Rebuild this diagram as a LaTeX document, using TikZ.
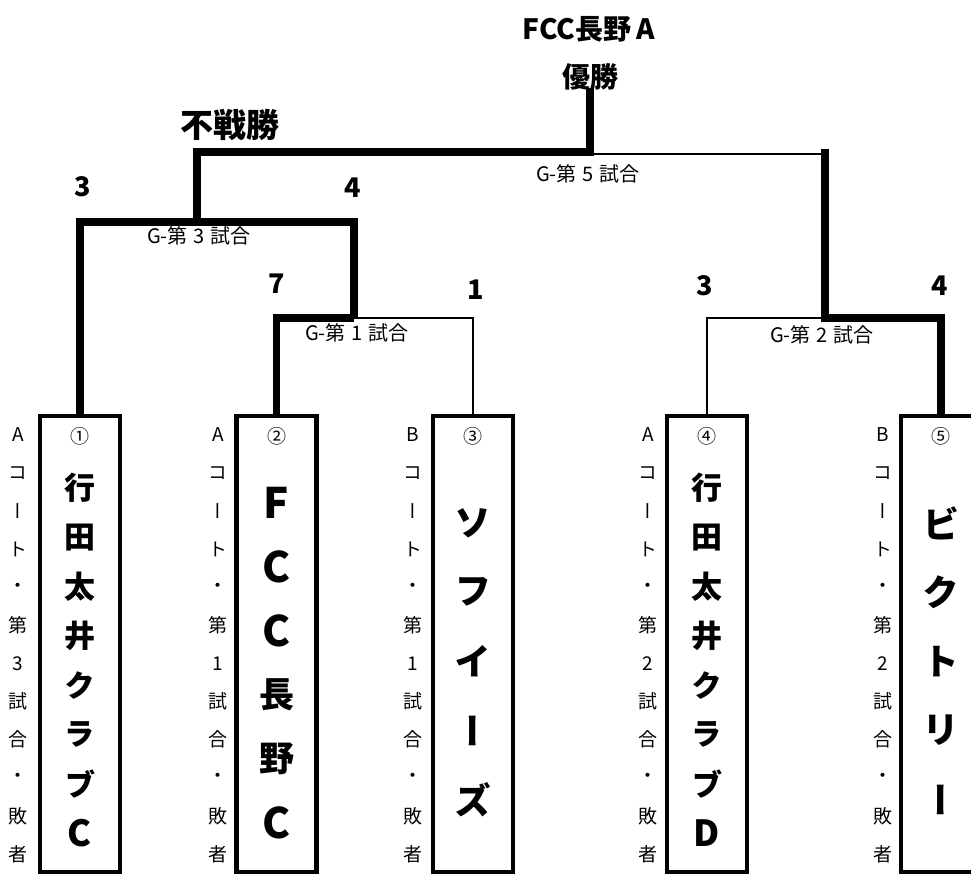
\documentclass[tikz,border=0pt]{standalone}
\usepackage{fontspec}
\newfontfamily\jp{Noto Sans CJK JP}
\newfontfamily\jpv[RawFeature=+vert]{Noto Sans CJK JP}
\newcommand\gap{\hspace{6pt}}
\begin{document}
\begin{tikzpicture}[x=1pt,y=-1pt,
  thk/.style={line width=7.5pt, line join=miter},
  thn/.style={line width=2.5pt},
  teambox/.style={draw, line width=4.5pt, minimum width=80pt, minimum height=456pt, inner sep=0pt},
  score/.style={font={\jp\bfseries\fontsize{27}{27}\selectfont}, inner sep=0pt},
  match/.style={font={\jp\fontsize{20}{20}\selectfont}, inner sep=0pt},
  title/.style={font={\jp\bfseries\fontsize{28}{28}\selectfont}, inner sep=0pt},
  side/.style={font={\jpv\fontsize{19}{19}\selectfont}, inner sep=0pt},
  circ/.style={font={\jp\fontsize{19}{19}\selectfont}, inner sep=0pt},
  tname/.style={font={\jpv\bfseries\fontsize{31}{31}\selectfont}, inner sep=0pt},
  tnamebig/.style={font={\jpv\bfseries\fontsize{35}{35}\selectfont}, inner sep=0pt}]
\useasboundingbox (0,0) rectangle (971,874);
\clip (0,0) rectangle (971,874);

% team boxes
\node[teambox] (b1) at (80,644) {};
\node[teambox] (b2) at (276.5,644) {};
\node[teambox] (b3) at (473,644) {};
\node[teambox] (b4) at (707,644) {};
\node[teambox] (b5) at (941,644) {};

% junctions
\coordinate (m1) at (354,318);
\coordinate (m3) at (197,222);
\coordinate (m5) at (590,152);
\coordinate (m5r) at (590,154);
\coordinate (m2) at (825,318);
\coordinate (m2top) at (825,149);
\coordinate (m2thin) at (825,154);
\coordinate (win) at (590,88);

% bracket lines
\draw[thk] (b1.north) |- (m3) -| (m1);
\draw[thk] (b2.north) |- (m1);
\draw[thn] (m1) -| (b3.north);
\draw[thk] (m3) |- (m5) -- (win);
\draw[thn] (m5r) -- (m2thin);
\draw[thn] (b4.north) |- (m2);
\draw[thk] (b5.north) |- (m2) -- (m2top);

% titles
\node[title] (champ) at (589,29) {FCC長野\hspace{5pt}A};
\node[title] (yusho) at (590,77) {優勝};
\node[title, font={\jp\bfseries\fontsize{33}{33}\selectfont}] (fusen) at (230,125) {不戦勝};

% match labels
\node[match] (lm5) at (588,174) {G-第\gap 5\gap 試合};
\node[match] (lm3) at (199,236) {G-第\gap 3\gap 試合};
\node[match] (lm1) at (357,333) {G-第\gap 1\gap 試合};
\node[match] (lm2) at (822,335) {G-第\gap 2\gap 試合};

% scores
\node[score] (s31) at (83,187) {3};
\node[score] (s32) at (353,188) {4};
\node[score] (s11) at (277,284) {7};
\node[score] (s12) at (476,290) {1};
\node[score] (s21) at (705,286) {3};
\node[score] (s22) at (940,286) {4};

% circled numbers
\node[circ] (n1) at (80,436) {①};
\node[circ] (n2) at (276.5,436) {②};
\node[circ] (n3) at (473,436) {③};
\node[circ] (n4) at (707,436) {④};
\node[circ] (n5) at (941,436) {⑤};

% side labels
\foreach \ch [count=\i from 0] in {A,コ,ー,ト,・,第,3,試,合,・,敗,者}
  \node[side] (sa\i) at (18,435+38.1*\i) {\ch};
\foreach \ch [count=\i from 0] in {A,コ,ー,ト,・,第,1,試,合,・,敗,者}
  \node[side] (sb\i) at (218,435+38.1*\i) {\ch};
\foreach \ch [count=\i from 0] in {B,コ,ー,ト,・,第,1,試,合,・,敗,者}
  \node[side] (sc\i) at (413,435+38.1*\i) {\ch};
\foreach \ch [count=\i from 0] in {A,コ,ー,ト,・,第,2,試,合,・,敗,者}
  \node[side] (sd\i) at (648,435+38.1*\i) {\ch};
\foreach \ch [count=\i from 0] in {B,コ,ー,ト,・,第,2,試,合,・,敗,者}
  \node[side] (se\i) at (883,435+38.1*\i) {\ch};

% team names
\foreach \ch [count=\i from 0] in {行,田,太,井,ク,ラ,ブ,{\fontsize{36}{36}\selectfont C}}
  \node[tname] (ta\i) at (80,488+49.3*\i) {\ch};
\foreach \ch [count=\i from 0] in {{\fontsize{42}{42}\selectfont F},{\fontsize{42}{42}\selectfont C},{\fontsize{42}{42}\selectfont C},長,野,{\fontsize{42}{42}\selectfont C}}
  \node[tnamebig] (tb\i) at (276.5,503+64*\i) {\ch};
\foreach \ch [count=\i from 0] in {ソ,フ,イ,ー,ズ}
  \node[tnamebig, font={\jpv\bfseries\fontsize{37}{37}\selectfont}] (tc\i) at (473,523+69.2*\i) {\ch};
\foreach \ch [count=\i from 0] in {行,田,太,井,ク,ラ,ブ,{\fontsize{36}{36}\selectfont D}}
  \node[tname] (td\i) at (707,488+49.3*\i) {\ch};
\foreach \ch [count=\i from 0] in {ビ,ク,ト,リ,ー}
  \node[tnamebig, font={\jpv\bfseries\fontsize{37}{37}\selectfont}] (te\i) at (941,523+69.2*\i) {\ch};
\end{tikzpicture}
\end{document}
